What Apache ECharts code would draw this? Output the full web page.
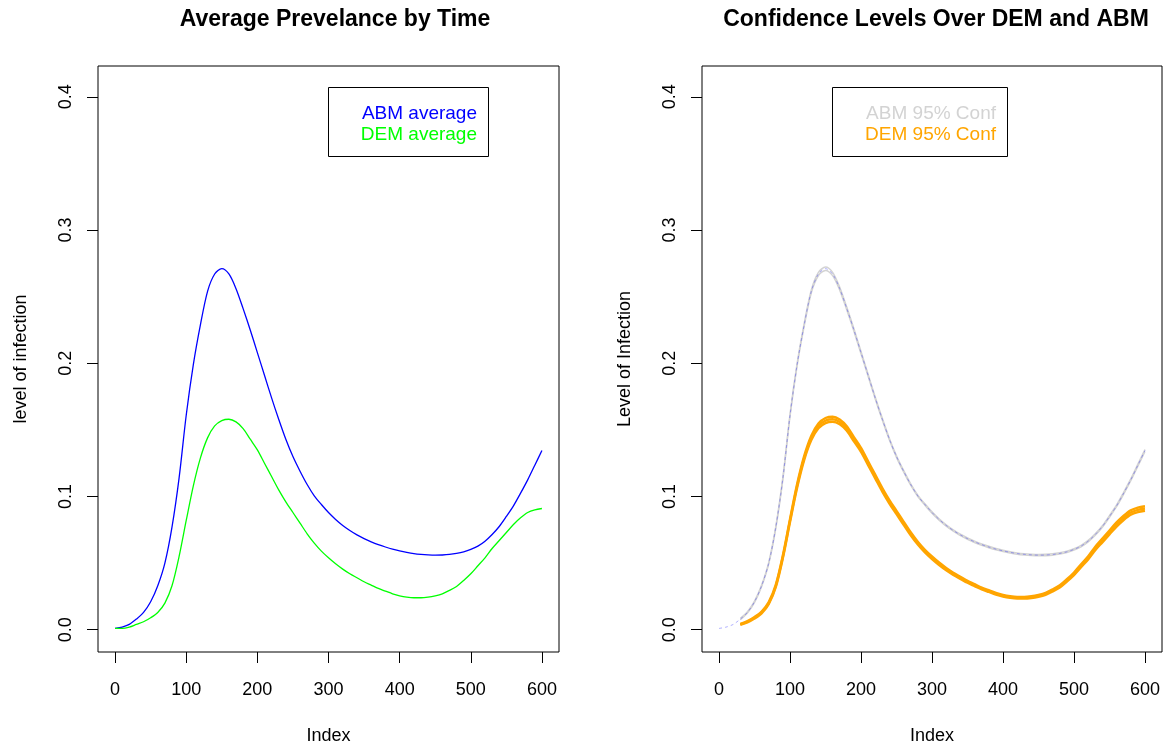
<!DOCTYPE html>
<html>
<head>
<meta charset="utf-8">
<script src="https://cdn.jsdelivr.net/npm/echarts@6/dist/echarts.min.js"></script>
<style>
html,body{margin:0;padding:0;background:#fff;}
#chart{width:1168px;height:747px;}
</style>
</head>
<body>
<div id="chart"></div>
<script>
// ---------- data ----------
const idx = [0,10,20,30,40,50,60,70,80,90,100,110,120,130,140,150,160,170,180,190,200,
  210,220,230,240,250,260,270,280,290,300,310,320,330,340,350,360,370,380,390,400,
  410,420,430,440,450,460,470,480,490,500,510,520,530,540,550,560,570,580,590,600];

const abmAvg = [0.001,0.002,0.004,0.008,0.013,0.021,0.033,0.050,0.077,0.114,0.161,0.199,0.229,0.254,0.267,0.271,0.267,0.256,0.241,0.225,0.208,
  0.191,0.174,0.158,0.143,0.130,0.119,0.109,0.1005,0.094,0.088,0.0828,0.0783,0.0745,0.0712,0.0684,0.066,0.0639,0.0621,0.0605,0.0592,
  0.0581,0.0572,0.0566,0.0562,0.056,0.0561,0.0565,0.0573,0.0585,0.0603,0.0628,0.0665,0.0715,0.0775,0.0850,0.0930,0.1025,0.1125,0.1235,0.1345];

const demAvg = [0.001,0.001,0.002,0.004,0.006,0.009,0.013,0.020,0.033,0.055,0.082,0.108,0.129,0.144,0.153,0.157,0.158,0.156,0.151,0.143,0.135,
  0.125,0.115,0.105,0.096,0.088,0.080,0.072,0.065,0.059,0.054,0.0495,0.0455,0.042,0.039,0.036,0.0335,0.031,0.029,0.027,0.0255,
  0.0245,0.024,0.024,0.0245,0.0255,0.027,0.0295,0.0325,0.037,0.042,0.048,0.054,0.061,0.067,0.073,0.079,0.084,0.088,0.090,0.091];

// width of the 95% confidence bands (upper - lower)
const abmSpread = [0,0,0,0.0010,0.0010,0.0010,0.0010,0.0012,0.0012,0.0014,0.0015,0.0017,0.0020,0.0022,0.0025,0.0026,0.0025,0.0022,0.0020,0.0018,0.0016,
  0.0015,0.0014,0.0013,0.0012,0.0012,0.0011,0.0011,0.0010,0.0010,0.0010,0.0010,0.0010,0.0010,0.0010,0.0010,0.0010,0.0010,0.0010,0.0010,0.0010,
  0.0010,0.0010,0.0010,0.0010,0.0010,0.0010,0.0010,0.0010,0.0010,0.0010,0.0011,0.0011,0.0012,0.0012,0.0013,0.0013,0.0014,0.0014,0.0015,0.0015];

const demSpread = [0,0,0,0.0008,0.0010,0.0012,0.0014,0.0016,0.0018,0.0021,0.0024,0.0027,0.0030,0.0033,0.0036,0.0038,0.0038,0.0036,0.0034,0.0032,0.0030,
  0.0029,0.0028,0.0027,0.0026,0.0025,0.0024,0.0023,0.0022,0.0021,0.0020,0.0019,0.0018,0.0017,0.0016,0.0015,0.0014,0.0013,0.0013,0.0012,0.0012,
  0.0012,0.0012,0.0012,0.0013,0.0014,0.0015,0.0016,0.0017,0.0018,0.0020,0.0022,0.0024,0.0026,0.0028,0.0030,0.0031,0.0032,0.0033,0.0034,0.0034];

const xTicks = [0,100,200,300,400,500,600];
const yTicks = [0,0.1,0.2,0.3,0.4];

const titles = ['Average Prevelance by Time', 'Confidence Levels Over DEM and ABM'];
const yNames = ['level of infection', 'Level of Infection'];
const xName = 'Index';
const legendLeft = ['ABM average', 'DEM average'];
const legendRight = ['ABM 95% Conf', 'DEM 95% Conf'];

// ---------- build ----------
const pair = (ys) => idx.map((x, i) => [x, ys[i]]);
const band = (avg, spread, sign) => idx.map((x, i) => spread[i] > 0 ? [x, avg[i] + sign * spread[i] / 2] : null).filter(d => d);

const FONT = '"Liberation Sans", Arial, Helvetica, sans-serif';
const BLUE = '#0000FF', GREEN = '#00FF00', ORANGE = '#FFA500', GREY = '#D3D3D3';

function xAxisFor(g) {
  return {
    type: 'value', gridIndex: g, min: -24, max: 624,
    name: xName, nameLocation: 'middle', nameGap: 75,
    nameTextStyle: {fontFamily: FONT, fontSize: 18, color: '#000'},
    axisLine: {show: false, onZero: false},
    splitLine: {show: false},
    axisTick: {show: true, customValues: xTicks, length: 11, inside: false, lineStyle: {color: '#000', width: 1}},
    axisLabel: {customValues: xTicks, fontFamily: FONT, fontSize: 18, color: '#000', margin: 29}
  };
}
function yAxisFor(g) {
  return {
    type: 'value', gridIndex: g, min: -0.0167, max: 0.4231,
    name: yNames[g], nameLocation: 'middle', nameGap: 68,
    nameTextStyle: {fontFamily: FONT, fontSize: 18, color: '#000'},
    axisLine: {show: false, onZero: false},
    splitLine: {show: false},
    axisTick: {show: true, customValues: yTicks, length: 11, inside: false, lineStyle: {color: '#000', width: 1}},
    axisLabel: {customValues: yTicks, rotate: 90, fontFamily: FONT, fontSize: 18, color: '#000', margin: 23,
      formatter: v => v.toFixed(1)}
  };
}
function line(g, data, color, width, z, extra) {
  const s = {type: 'line', xAxisIndex: g, yAxisIndex: g, data: data, showSymbol: false, symbol: 'none',
    smooth: 0.3, lineStyle: {color: color, width: width}, itemStyle: {color: color}, z: z || 2, silent: true, animation: false};
  if (extra) Object.assign(s.lineStyle, extra);
  return s;
}

const chart = echarts.init(document.getElementById('chart'), null, {renderer: 'canvas'});
const LFONT = '19px ' + FONT;

chart.setOption({
  backgroundColor: '#fff',
  animation: false,
  title: [
    {text: titles[0], left: 330, top: 3, textAlign: 'center', textStyle: {fontFamily: FONT, fontSize: 23, fontWeight: 'bold', color: '#000'}},
    {text: titles[1], left: 931, top: 3, textAlign: 'center', textStyle: {fontFamily: FONT, fontSize: 23, fontWeight: 'bold', color: '#000'}}
  ],
  grid: [
    {left: 98, top: 66, width: 461, height: 586, show: true, borderColor: '#000', borderWidth: 1, backgroundColor: 'transparent',
      containLabel: false, outerBoundsMode: 'none'},
    {left: 702, top: 66, width: 460, height: 586, show: true, borderColor: '#000', borderWidth: 1, backgroundColor: 'transparent',
      containLabel: false, outerBoundsMode: 'none'}
  ],
  xAxis: [xAxisFor(0), xAxisFor(1)],
  yAxis: [yAxisFor(0), yAxisFor(1)],
  series: [
    line(0, pair(abmAvg), BLUE, 1.3, 3),
    line(0, pair(demAvg), GREEN, 1.3, 3),
    line(1, band(abmAvg, abmSpread, -1), GREY, 1.5, 3),
    line(1, band(abmAvg, abmSpread, 1), GREY, 1.5, 3),
    line(1, pair(abmAvg), BLUE, 0.7, 4, {opacity: 0.45, type: [3, 3]}),
    line(1, band(demAvg, demSpread, -1), ORANGE, 2.4, 5),
    line(1, band(demAvg, demSpread, 1), ORANGE, 2.4, 5),
    line(1, band(demAvg, demSpread, 0), ORANGE, 2.4, 5)
  ],
  graphic: [
    {type: 'rect', shape: {x: 328.5, y: 87.5, width: 160, height: 69}, style: {fill: '#fff', stroke: '#000', lineWidth: 1}, z: 10},
    {type: 'text', x: 477, y: 114, z: 11, style: {text: legendLeft[0], fill: BLUE, font: LFONT, textAlign: 'right', textVerticalAlign: 'middle'}},
    {type: 'text', x: 477, y: 135, z: 11, style: {text: legendLeft[1], fill: GREEN, font: LFONT, textAlign: 'right', textVerticalAlign: 'middle'}},
    {type: 'rect', shape: {x: 832.5, y: 87.5, width: 175, height: 69}, style: {fill: '#fff', stroke: '#000', lineWidth: 1}, z: 10},
    {type: 'text', x: 996, y: 114, z: 11, style: {text: legendRight[0], fill: GREY, font: LFONT, textAlign: 'right', textVerticalAlign: 'middle'}},
    {type: 'text', x: 996, y: 135, z: 11, style: {text: legendRight[1], fill: ORANGE, font: LFONT, textAlign: 'right', textVerticalAlign: 'middle'}}
  ]
});
</script>
</body>
</html>
